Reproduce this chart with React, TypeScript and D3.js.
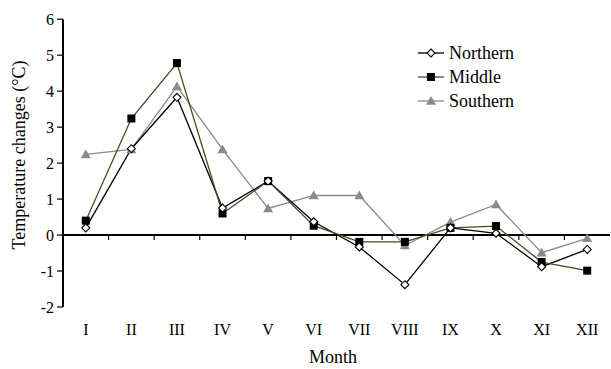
import React from "react";
import * as d3 from "d3";

const months = ["I", "II", "III", "IV", "V", "VI", "VII", "VIII", "IX", "X", "XI", "XII"];
const northern = [0.2, 2.4, 3.83, 0.75, 1.5, 0.37, -0.33, -1.38, 0.2, 0.05, -0.88, -0.4];
const middle = [0.4, 3.24, 4.78, 0.6, 1.5, 0.26, -0.19, -0.19, 0.2, 0.25, -0.75, -0.99];
const southern = [2.24, 2.38, 4.13, 2.38, 0.74, 1.1, 1.1, -0.29, 0.36, 0.85, -0.49, -0.09];
const yTicks = [-2, -1, 0, 1, 2, 3, 4, 5, 6];
const seriesNames = ["Northern", "Middle", "Southern"];

const W = 611;
const H = 369;
const left = 63;
const right = 610;
const FONT = "'Liberation Serif', 'Times New Roman', serif";

export default function App() {
  const x = d3.scaleBand<string>().domain(months).range([left, right]);
  const y = d3.scaleLinear().domain([-2, 6]).range([307, 19.2]);
  const cx = (m: string) => (x(m) as number) + x.bandwidth() / 2;
  const line = d3
    .line<number>()
    .x((_, i) => cx(months[i]))
    .y((d) => y(d));

  const colors = { Northern: "#000000", Middle: "#4a4a1e", Southern: "#8a8a8a" };
  const data: Record<string, number[]> = { Northern: northern, Middle: middle, Southern: southern };

  const marker = (name: string, px: number, py: number, key: string) => {
    if (name === "Northern") {
      const s = 4;
      return (
        <path
          key={key}
          d={`M${px},${py - s}L${px + s},${py}L${px},${py + s}L${px - s},${py}Z`}
          fill="#fff"
          stroke="#000"
          strokeWidth={1.1}
        />
      );
    }
    if (name === "Middle") {
      return <rect key={key} x={px - 4} y={py - 4} width={8} height={8} fill="#000" />;
    }
    const t = 5;
    return (
      <path
        key={key}
        d={`M${px},${py - t}L${px + t},${py + t * 0.75}L${px - t},${py + t * 0.75}Z`}
        fill="#8a8a8a"
      />
    );
  };

  const legendY = [53, 77, 101];

  return (
    <svg width={W} height={H} style={{ position: "absolute", left: 0, top: 0 }} fontFamily={FONT}>
      <rect width={W} height={H} fill="#fff" />
      {/* y axis */}
      <line x1={left} x2={left} y1={y(-2)} y2={y(6)} stroke="#000" strokeWidth={2} />
      {yTicks.map((t) => (
        <g key={t}>
          <line x1={left - 6} x2={left} y1={y(t)} y2={y(t)} stroke="#000" strokeWidth={1.2} />
          <text x={left - 9} y={y(t)} dy="0.35em" textAnchor="end" fontSize={16} fill="#000">
            {t < 0 ? `-${Math.abs(t)}` : t}
          </text>
        </g>
      ))}
      {/* zero line with ticks */}
      <line x1={left} x2={right} y1={y(0)} y2={y(0)} stroke="#000" strokeWidth={2} />
      {months.slice(1).map((m) => (
        <line
          key={m}
          x1={x(m) as number}
          x2={x(m) as number}
          y1={y(0)}
          y2={y(0) + 5}
          stroke="#000"
          strokeWidth={1.2}
        />
      ))}
      {months.map((m) => (
        <text key={m} x={cx(m)} y={335} textAnchor="middle" fontSize={16} fill="#000">
          {m}
        </text>
      ))}
      <text x={333} y={363} textAnchor="middle" fontSize={18} fill="#000">
        Month
      </text>
      <text
        transform={`translate(25,${155}) rotate(-90)`}
        textAnchor="middle"
        fontSize={18}
        fill="#000"
      >
        Temperature changes (°C)
      </text>
      {/* series: draw southern first, then northern, middle */}
      {["Southern", "Northern", "Middle"].map((name) => (
        <path
          key={name}
          d={line(data[name]) as string}
          fill="none"
          stroke={(colors as any)[name]}
          strokeWidth={1.3}
        />
      ))}
      {["Southern", "Middle", "Northern"].map((name) =>
        data[name].map((v, i) => marker(name, cx(months[i]), y(v), `${name}-${i}`))
      )}
      {/* legend */}
      {seriesNames.map((name, i) => (
        <g key={name}>
          <line
            x1={418}
            x2={444}
            y1={legendY[i]}
            y2={legendY[i]}
            stroke={(colors as any)[name]}
            strokeWidth={1.3}
          />
          {marker(name, 431, legendY[i], `leg-${name}`)}
          <text x={449} y={legendY[i]} dy="0.35em" fontSize={18} fill="#000">
            {name}
          </text>
        </g>
      ))}
    </svg>
  );
}
